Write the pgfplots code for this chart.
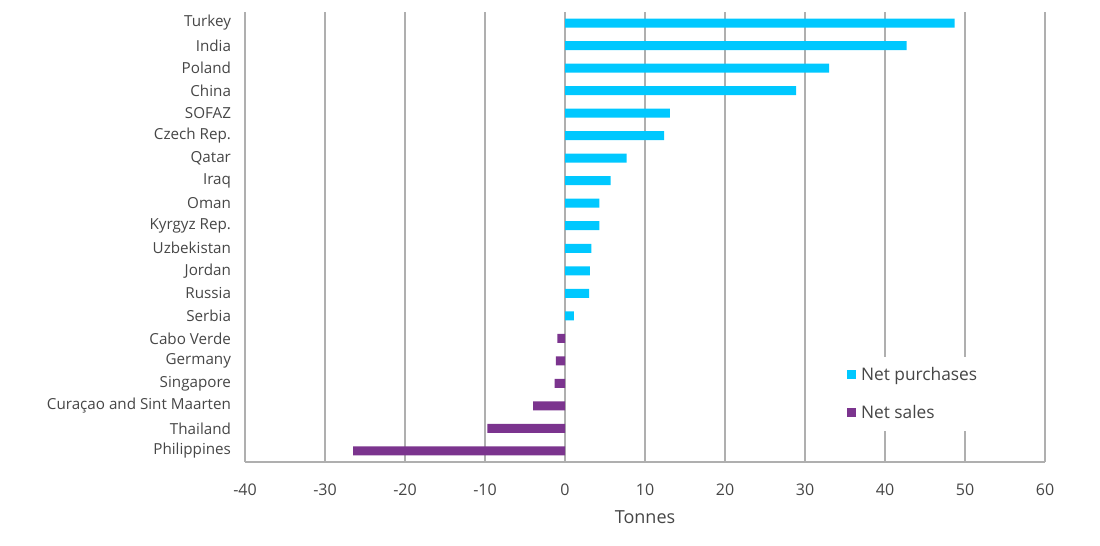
\documentclass[border=0pt]{standalone}
\usepackage{pgfplots}
\pgfplotsset{compat=1.18}
\usepackage{fontspec}
\setmainfont{Open Sans}
\definecolor{cpur}{RGB}{0,200,255}
\definecolor{csal}{RGB}{123,52,142}
\definecolor{ctxt}{RGB}{70,70,70}
\definecolor{cgrid}{RGB}{175,175,175}
\begin{document}
\begin{tikzpicture}
\useasboundingbox (0,0) rectangle (825pt,409.5pt);
\begin{axis}[
  at={(183.75pt,63pt)}, anchor=south west,
  scale only axis, width=600pt, height=337.5pt,
  xmin=-40, xmax=60, ymin=-0.49, ymax=19.49,
  xtick={-40,-30,...,60},
  ytick={0,...,19},
  yticklabels={Philippines,Thailand,Curaçao and Sint Maarten,Singapore,Germany,Cabo Verde,Serbia,Russia,Jordan,Uzbekistan,Kyrgyz Rep.,Oman,Iraq,Qatar,Czech Rep.,SOFAZ,China,Poland,India,Turkey},
  xmajorgrids, grid style={cgrid, line width=0.8pt},
  axis x line*=bottom, axis y line*=left,
  axis line style={cgrid, line width=0.8pt, -},
  major tick length=0pt,
  /pgf/number format/assume math mode=true,
  yticklabel style={font=\fontsize{11.4}{13}\selectfont, text=ctxt, xshift=-7pt},
  xticklabel style={font=\fontsize{12}{14}\selectfont, text=ctxt, yshift=-13pt},
  xlabel={Tonnes}, xlabel style={font=\fontsize{13.5}{15}\selectfont, text=ctxt, yshift=-4pt},
  xbar, bar width=6.75pt, bar shift=0pt,
  legend style={at={(0.745,0.235)}, anchor=north west, draw=none, fill=white,
    font=\fontsize{13}{15}\selectfont, text=ctxt, row sep=13pt, inner xsep=4pt, inner ysep=6pt,
    nodes={inner xsep=4pt}},
  legend cell align=left,
]
\addplot[fill=cpur, draw=none, legend image code/.code={\fill[cpur] (0pt,-3.4pt) rectangle (6.8pt,3.4pt);}] coordinates {
 (1.1,6) (3.0,7) (3.1,8) (3.3,9) (4.3,10) (4.3,11) (5.7,12) (7.7,13) (12.4,14) (13.1,15) (28.9,16) (33.0,17) (42.7,18) (48.7,19)};
\addlegendentry{Net purchases}
\addplot[fill=csal, draw=none, legend image code/.code={\fill[csal] (0pt,-3.4pt) rectangle (6.8pt,3.4pt);}] coordinates {
 (-26.5,0) (-9.7,1) (-4.0,2) (-1.3,3) (-1.15,4) (-0.95,5)};
\addlegendentry{Net sales}
\end{axis}
\end{tikzpicture}
\end{document}
